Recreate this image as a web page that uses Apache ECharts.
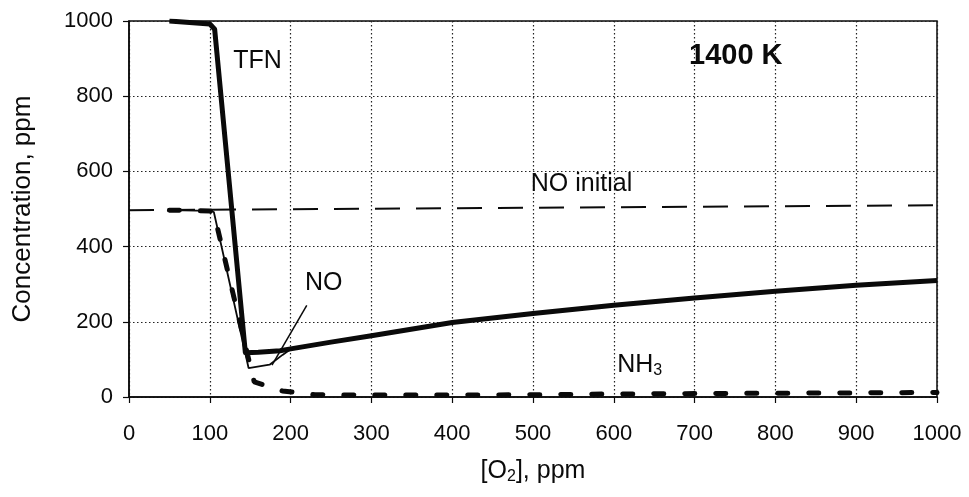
<!DOCTYPE html>
<html>
<head>
<meta charset="utf-8">
<script src="https://cdn.jsdelivr.net/npm/echarts@6/dist/echarts.min.js"></script>
<style>
  html, body { margin: 0; padding: 0; background: #fff; }
  #chart { width: 969px; height: 497px; }
</style>
</head>
<body>
<div id="chart"></div>
<script>
// Axis ranges and tick steps
const xRange = [0, 1000];
const xStep = 100;
const yRange = [0, 1000];
const yStep = 200;

// [O2] (ppm) vs concentration (ppm) at 1400 K
const tfn = [[50, 1000], [100, 992], [106, 978], [144, 118], [160, 119], [187, 123], [200, 128],
  [250, 146], [300, 163], [400, 198], [500, 222], [600, 244], [700, 263], [800, 281], [900, 297], [1000, 310]];
const no = [[50, 497], [100, 495], [105, 492], [148, 77], [174, 86], [190, 112], [200, 127],
  [250, 145], [300, 162], [400, 197], [500, 221], [600, 243], [700, 262], [800, 280], [900, 296], [1000, 309]];
const nh3 = [[50, 497], [100, 495], [105, 490], [147, 110], [155, 40], [190, 16], [230, 6],
  [300, 5], [400, 5], [500, 6], [600, 8], [700, 9], [800, 10], [900, 11], [1000, 12]];
const noInitial = [[0, 497], [1000, 510]];

// Leader from the "NO" tag to its curve
const noLeader = [[220, 244], [177, 85]];

// Text tags placed in data coordinates
const tags = [
  { name: 'TFN', value: [159, 892], bold: false },
  { name: 'NO initial', value: [560, 565], bold: false },
  { name: 'NO', value: [241, 303], bold: false },
  { name: 'NH{s|3}', value: [632, 85], bold: false },
  { name: '1400 K', value: [751, 907], bold: true }
];

const FONT = 'Liberation Sans, Arial, sans-serif';
const INK = '#0a0a0a';

const chart = echarts.init(document.getElementById('chart'));

const gridLine = { show: true, lineStyle: { color: '#222', width: 1.2, type: [1.5, 2.5] } };

chart.setOption({
  backgroundColor: '#fff',
  animation: false,
  grid: { left: 129, right: 32, top: 21, bottom: 100, show: true, borderColor: INK, borderWidth: 1.5 },
  xAxis: {
    type: 'value', min: xRange[0], max: xRange[1], interval: xStep,
    name: '[O{s|2}], ppm', nameLocation: 'middle', nameGap: 61,
    nameTextStyle: { fontFamily: FONT, fontSize: 25, color: INK,
      rich: { s: { fontFamily: FONT, fontSize: 16, color: INK, padding: [11, 0, 0, 0] } } },
    axisLine: { onZero: false, lineStyle: { color: INK, width: 1.5 } },
    axisTick: { show: true, inside: false, length: 6, lineStyle: { color: INK, width: 1.2 } },
    axisLabel: { fontFamily: FONT, fontSize: 22, color: INK, margin: 26, formatter: v => String(v) },
    splitLine: gridLine
  },
  yAxis: {
    type: 'value', min: yRange[0], max: yRange[1], interval: yStep,
    name: 'Concentration, ppm', nameLocation: 'middle', nameGap: 93,
    nameTextStyle: { fontFamily: FONT, fontSize: 26, color: INK },
    axisLine: { onZero: false, lineStyle: { color: INK, width: 1.5 } },
    axisTick: { show: true, inside: false, length: 6, lineStyle: { color: INK, width: 1.2 } },
    axisLabel: { fontFamily: FONT, fontSize: 22, color: INK, margin: 16, formatter: v => String(v) },
    splitLine: gridLine
  },
  series: [
    {
      name: 'NO initial', type: 'line', data: noInitial, symbol: 'none', silent: true,
      lineStyle: { color: INK, width: 2, type: [25, 16] }
    },
    {
      name: 'NH3', type: 'line', data: nh3, symbol: 'none', silent: true,
      lineStyle: { color: INK, width: 5, type: [10, 21], cap: 'round' }
    },
    {
      name: 'NO', type: 'line', data: no, symbol: 'none', silent: true,
      lineStyle: { color: INK, width: 1.8 }
    },
    {
      name: 'TFN', type: 'line', data: tfn, symbol: 'none', silent: true,
      lineStyle: { color: INK, width: 5, join: 'round' }
    },
    {
      name: 'leader', type: 'line', data: noLeader, symbol: 'none', silent: true,
      lineStyle: { color: INK, width: 1.5 }
    },
    {
      name: 'tags', type: 'scatter', silent: true, symbolSize: 1,
      itemStyle: { color: 'rgba(0,0,0,0)', opacity: 1 },
      data: tags.map(t => ({
        name: t.name, value: t.value,
        label: {
          show: true, position: 'inside', formatter: t.name, opacity: 1,
          fontFamily: FONT, color: INK,
          fontSize: t.bold ? 29 : 25, fontWeight: t.bold ? 'bold' : 'normal',
          rich: { s: { fontFamily: FONT, fontSize: 16, color: INK, padding: [11, 0, 0, 0] } }
        }
      }))
    }
  ]
});
</script>
</body>
</html>
